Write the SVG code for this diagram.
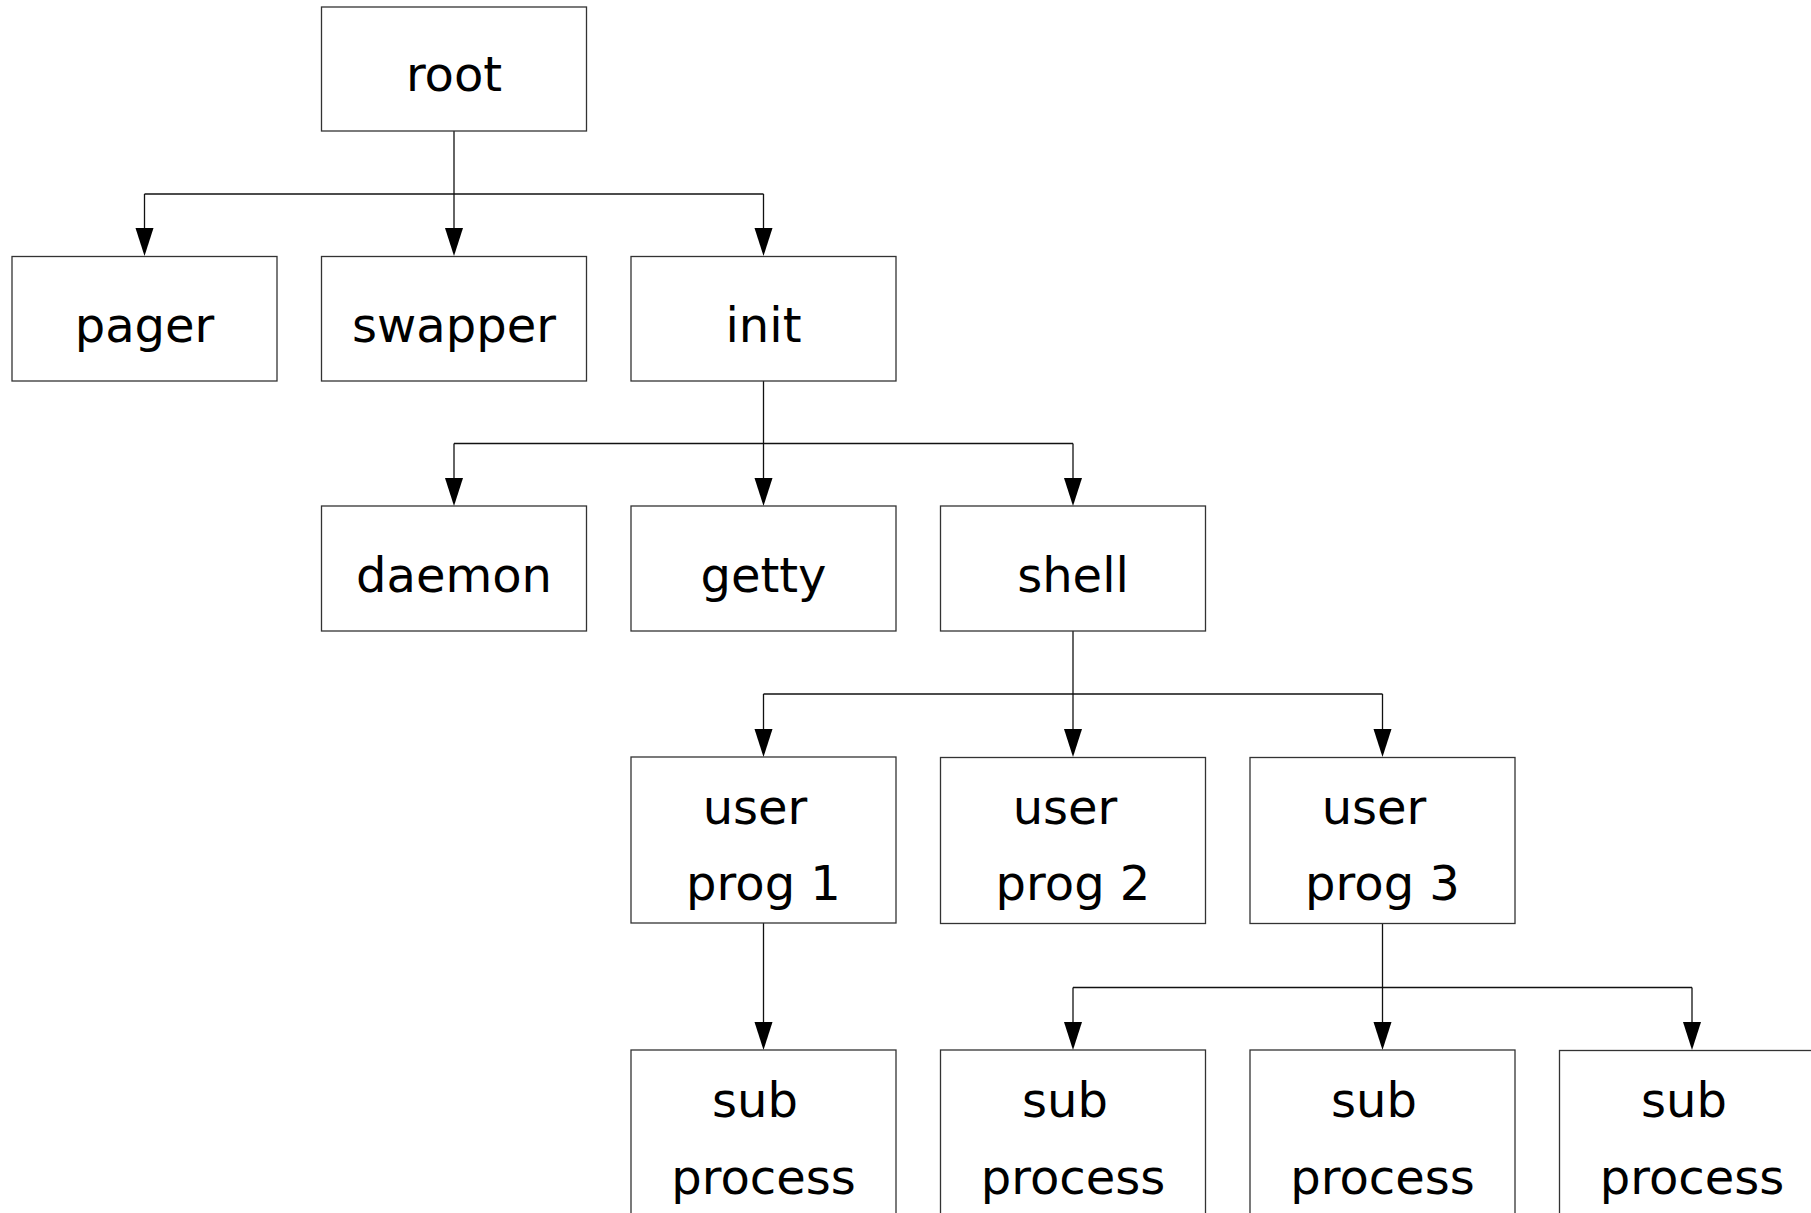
<svg xmlns="http://www.w3.org/2000/svg" width="1811" height="1213" viewBox="0 0 1811 1213">
<style>
.box{fill:#fff;stroke:#333;stroke-width:1.3}
.lbl{font-family:"DejaVu Sans","Noto Sans",sans-serif;font-size:48px;fill:#000;text-anchor:middle}
.con{fill:none;stroke:#111;stroke-width:1.3}
</style>
<defs>
<marker id="ah" markerWidth="18" markerHeight="28" refX="9" refY="28" orient="auto-start-reverse" markerUnits="userSpaceOnUse" viewBox="0 0 18 28">
<path d="M0,0 L18,0 L9,28 Z" fill="#000"/>
</marker>
</defs>
<rect width="1811" height="1213" fill="#fff"/>
<g id="connectors">
<path class="con" d="M454,131 V194"/>
<path class="con" d="M144.5,194 H763.5"/>
<path class="con" d="M144.5,194 V228" />
<path class="con" d="M454,194 V228"/>
<path class="con" d="M763.5,194 V228"/>
<path d="M135.5,228 L153.5,228 L144.5,256 Z"/>
<path d="M445,228 L463,228 L454,256 Z"/>
<path d="M754.5,228 L772.5,228 L763.5,256 Z"/>

<path class="con" d="M763.5,381 V443.5"/>
<path class="con" d="M454,443.5 H1073"/>
<path class="con" d="M454,443.5 V478"/>
<path class="con" d="M763.5,443.5 V478"/>
<path class="con" d="M1073,443.5 V478"/>
<path d="M445,478 L463,478 L454,506 Z"/>
<path d="M754.5,478 L772.5,478 L763.5,506 Z"/>
<path d="M1064,478 L1082,478 L1073,506 Z"/>

<path class="con" d="M1073,631 V694"/>
<path class="con" d="M763.5,694 H1382.5"/>
<path class="con" d="M763.5,694 V729"/>
<path class="con" d="M1073,694 V729"/>
<path class="con" d="M1382.5,694 V729"/>
<path d="M754.5,729 L772.5,729 L763.5,757 Z"/>
<path d="M1064,729 L1082,729 L1073,757 Z"/>
<path d="M1373.5,729 L1391.5,729 L1382.5,757 Z"/>

<path class="con" d="M763.5,923 V1022"/>
<path d="M754.5,1022 L772.5,1022 L763.5,1050 Z"/>

<path class="con" d="M1382.5,923 V987.5"/>
<path class="con" d="M1073,987.5 H1692"/>
<path class="con" d="M1073,987.5 V1022"/>
<path class="con" d="M1382.5,987.5 V1022"/>
<path class="con" d="M1692,987.5 V1022"/>
<path d="M1064,1022 L1082,1022 L1073,1050 Z"/>
<path d="M1373.5,1022 L1391.5,1022 L1382.5,1050 Z"/>
<path d="M1683,1022 L1701,1022 L1692,1050 Z"/>
</g>

<g id="root"><rect class="box" x="321.5" y="7" width="265" height="124"/><text class="lbl" x="454" y="91">root</text></g>
<g id="pager"><rect class="box" x="12" y="256.5" width="265" height="124.5"/><text class="lbl" x="144.5" y="342">pager</text></g>
<g id="swapper"><rect class="box" x="321.5" y="256.5" width="265" height="124.5"/><text class="lbl" x="454" y="342">swapper</text></g>
<g id="init"><rect class="box" x="631" y="256.5" width="265" height="124.5"/><text class="lbl" x="763.5" y="342">init</text></g>
<g id="daemon"><rect class="box" x="321.5" y="506" width="265" height="125"/><text class="lbl" x="454" y="592">daemon</text></g>
<g id="getty"><rect class="box" x="631" y="506" width="265" height="125"/><text class="lbl" x="763.5" y="592">getty</text></g>
<g id="shell"><rect class="box" x="940.5" y="506" width="265" height="125"/><text class="lbl" x="1073" y="592">shell</text></g>
<g id="userprog1"><rect class="box" x="631" y="757" width="265" height="166"/><text class="lbl" x="755" y="824">user</text><text class="lbl" x="763.5" y="900">prog 1</text></g>
<g id="userprog2"><rect class="box" x="940.5" y="757.5" width="265" height="166"/><text class="lbl" x="1065" y="824">user</text><text class="lbl" x="1073" y="900">prog 2</text></g>
<g id="userprog3"><rect class="box" x="1250" y="757.5" width="265" height="166"/><text class="lbl" x="1374" y="824">user</text><text class="lbl" x="1382.5" y="900">prog 3</text></g>
<g id="sub1"><rect class="box" x="631" y="1050" width="265" height="170"/><text class="lbl" x="755" y="1117">sub</text><text class="lbl" x="763.5" y="1194">process</text></g>
<g id="sub2"><rect class="box" x="940.5" y="1050" width="265" height="170"/><text class="lbl" x="1065" y="1117">sub</text><text class="lbl" x="1073" y="1194">process</text></g>
<g id="sub3"><rect class="box" x="1250" y="1050" width="265" height="170"/><text class="lbl" x="1374" y="1117">sub</text><text class="lbl" x="1382.5" y="1194">process</text></g>
<g id="sub4"><rect class="box" x="1559.5" y="1050.5" width="265" height="170"/><text class="lbl" x="1684" y="1117">sub</text><text class="lbl" x="1692" y="1194">process</text></g>
</svg>
